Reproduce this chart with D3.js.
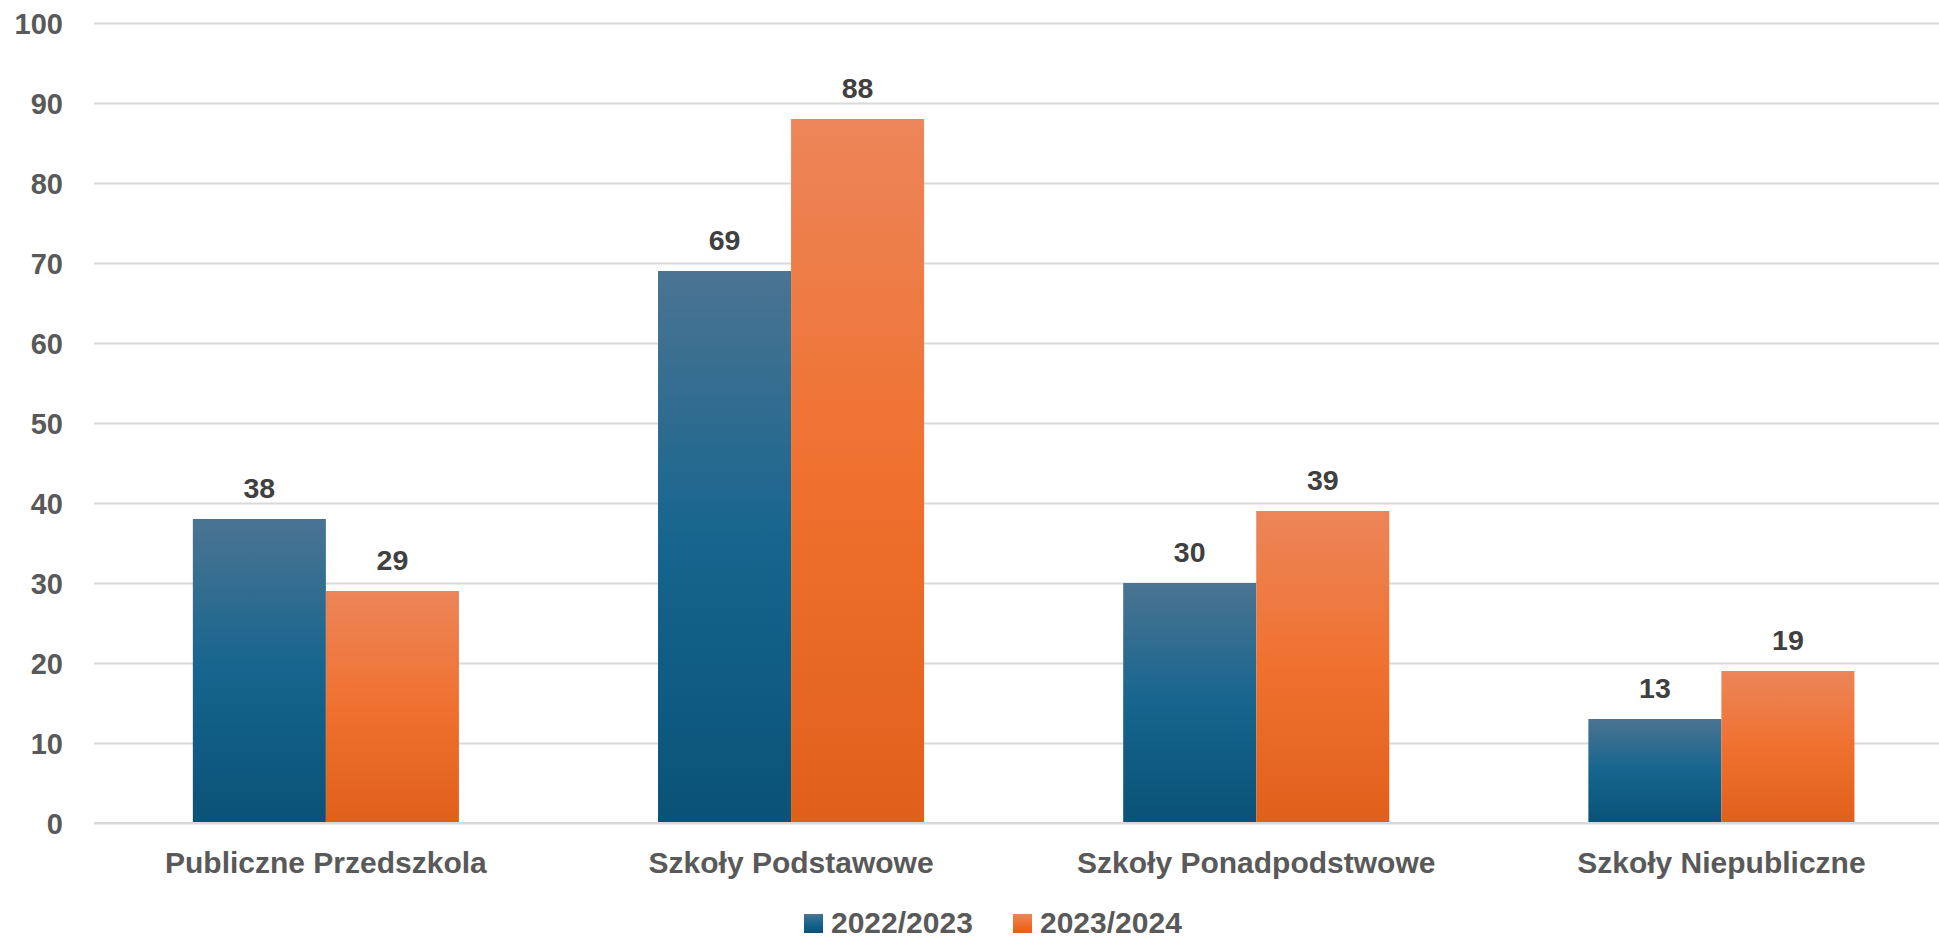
<!DOCTYPE html>
<html>
<head>
<meta charset="utf-8">
<script src="https://cdn.jsdelivr.net/npm/d3@7"></script>
<style>
  html, body { margin: 0; padding: 0; background: #fff; }
  svg { display: block; }
  text { font-family: "Liberation Sans", Arial, sans-serif; font-weight: bold; }
</style>
</head>
<body>
<svg id="chart" width="1939" height="938"></svg>
<script>
const categories = ["Publiczne Przedszkola", "Szkoły Podstawowe", "Szkoły Ponadpodstwowe", "Szkoły Niepubliczne"];
const seriesNames = ["2022/2023", "2023/2024"];
const values2022 = [38, 69, 30, 13];
const values2023 = [29, 88, 39, 19];
const yTicks = [0, 10, 20, 30, 40, 50, 60, 70, 80, 90, 100];

const W = 1939, H = 938;
const svg = d3.select("#chart");

const y = d3.scaleLinear().domain([0, 100]).range([823, 23]);
const x = d3.scaleBand().domain(categories).range([93.3, 1954]).paddingInner(0.428).paddingOuter(0.214);
const xs = d3.scaleBand().domain(seriesNames).range([0, x.bandwidth()]);

const defs = svg.append("defs");
const gradients = [
  ["g0", [["0%", "#4b7492"], ["50%", "#15658e"], ["100%", "#0a5276"]]],
  ["g1", [["0%", "#ec8559"], ["50%", "#f0712f"], ["100%", "#e05f1b"]]]
];
gradients.forEach(([id, stops]) => {
  const g = defs.append("linearGradient").attr("id", id).attr("x1", 0).attr("y1", 0).attr("x2", 0).attr("y2", 1);
  stops.forEach(([o, c]) => g.append("stop").attr("offset", o).attr("stop-color", c));
});

// Gridlines + y axis
const yAxis = d3.axisLeft(y).tickValues(yTicks).tickSize(-(W - 94)).tickPadding(31);
const ga = svg.append("g").attr("transform", "translate(94,0)").call(yAxis);
ga.select(".domain").remove();
ga.selectAll(".tick line").attr("stroke", "#d9d9d9").attr("stroke-width", 2);
ga.selectAll(".tick text").attr("fill", "#595959").attr("font-size", 29)
  .attr("font-family", "Liberation Sans, Arial, sans-serif").attr("font-weight", "bold").attr("dy", "0.36em");

// Bars
const data = [values2022, values2023];
const groups = svg.append("g");
seriesNames.forEach((s, si) => {
  const vals = data[si];
  groups.selectAll(".bar" + si).data(categories).enter().append("rect")
    .attr("x", c => x(c) + xs(s))
    .attr("y", (c, i) => y(vals[i]))
    .attr("width", xs.bandwidth())
    .attr("height", (c, i) => y(0) - y(vals[i]))
    .attr("fill", "url(#g" + si + ")");
  groups.selectAll(".lbl" + si).data(categories).enter().append("text")
    .attr("x", c => x(c) + xs(s) + xs.bandwidth() / 2)
    .attr("y", (c, i) => y(vals[i]) - 21)
    .attr("text-anchor", "middle")
    .attr("fill", "#404040")
    .attr("font-size", 28.5)
    .text((c, i) => vals[i]);
});

// baseline redraw
svg.append("line").attr("x1", 94).attr("x2", W).attr("y1", y(0)).attr("y2", y(0))
  .attr("stroke", "#d9d9d9").attr("stroke-width", 2);

// Category labels
const xAxis = d3.axisBottom(x).tickSize(0).tickPadding(0);
const gx = svg.append("g").attr("transform", "translate(0,823)").call(xAxis);
gx.select(".domain").remove();
gx.selectAll(".tick text").attr("fill", "#595959").attr("font-size", 30)
  .attr("font-family", "Liberation Sans, Arial, sans-serif").attr("font-weight", "bold")
  .attr("dy", 0).attr("y", 50);

// Legend
const legendX = [804, 1013];
const legend = svg.append("g");
seriesNames.forEach((s, i) => {
  legend.append("rect").attr("x", legendX[i]).attr("y", 914).attr("width", 19).attr("height", 19)
    .attr("fill", "url(#g" + i + ")");
  legend.append("text").attr("x", legendX[i] + 27).attr("y", 933).attr("fill", "#595959")
    .attr("font-size", 30).text(s);
});
</script>
</body>
</html>
